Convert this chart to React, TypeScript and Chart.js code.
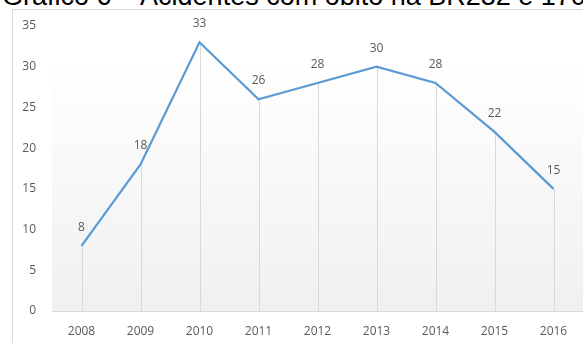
import React, { useEffect, useRef } from "react";
import { Chart, registerables } from "chart.js";

Chart.register(...registerables);

const TITLE = "Gráfico 6 – Acidentes com óbito na BR232 e 170";
const years = ["2008", "2009", "2010", "2011", "2012", "2013", "2014", "2015", "2016"];
const deaths = [8, 18, 33, 26, 28, 30, 28, 22, 15];
const yMax = 35;
const yStep = 5;

const LINE_COLOR = "#5b9bd5";
const TEXT_COLOR = "#595959";
const GRID_COLOR = "#d9d9d9";
const FONT = "'Open Sans', sans-serif";

const bgPlugin = {
  id: "bgGradient",
  beforeDraw(chart: any) {
    const { ctx, chartArea } = chart;
    if (!chartArea) return;
    const g = ctx.createLinearGradient(0, chartArea.top, 0, chartArea.bottom);
    g.addColorStop(0, "#ffffff");
    g.addColorStop(0.12, "#ffffff");
    g.addColorStop(1, "#f0f0f0");
    ctx.save();
    ctx.fillStyle = g;
    ctx.fillRect(chartArea.left, chartArea.top, chartArea.right - chartArea.left, chartArea.bottom - chartArea.top);
    ctx.restore();
  },
};

const dropLinesPlugin = {
  id: "dropLines",
  beforeDatasetsDraw(chart: any) {
    const { ctx } = chart;
    const yScale = chart.scales.y;
    const meta = chart.getDatasetMeta(0);
    ctx.save();
    ctx.strokeStyle = GRID_COLOR;
    ctx.lineWidth = 1;
    meta.data.forEach((pt: any) => {
      const x = Math.round(pt.x) + 0.5;
      ctx.beginPath();
      ctx.moveTo(x, pt.y);
      ctx.lineTo(x, yScale.getPixelForValue(0));
      ctx.stroke();
    });
    ctx.restore();
  },
};

const labelsPlugin = {
  id: "valueLabels",
  afterDatasetsDraw(chart: any) {
    const { ctx } = chart;
    const meta = chart.getDatasetMeta(0);
    const data = chart.data.datasets[0].data;
    ctx.save();
    ctx.fillStyle = TEXT_COLOR;
    ctx.font = `12px ${FONT}`;
    ctx.textAlign = "center";
    ctx.textBaseline = "middle";
    meta.data.forEach((pt: any, i: number) => {
      ctx.fillText(String(data[i]), pt.x, pt.y - 18.5);
    });
    ctx.restore();
  },
};

export default function App() {
  const ref = useRef<HTMLCanvasElement | null>(null);

  useEffect(() => {
    document.body.style.margin = "0";
    const canvas = ref.current;
    if (!canvas) return;
    const chart = new Chart(canvas, {
      type: "line",
      data: {
        labels: years,
        datasets: [
          {
            data: deaths,
            borderColor: LINE_COLOR,
            borderWidth: 2.25,
            pointRadius: 0,
            pointHoverRadius: 0,
            tension: 0,
            fill: false,
          },
        ],
      },
      options: {
        animation: false,
        responsive: false,
        maintainAspectRatio: false,
        layout: { padding: { left: 0, right: 0, top: 26, bottom: 0 } },
        plugins: {
          legend: { display: false },
          tooltip: { enabled: false },
          title: { display: false },
        },
        scales: {
          x: {
            offset: true,
            grid: { display: false, drawTicks: false },
            border: { display: true, color: GRID_COLOR, width: 1 },
            ticks: {
              color: TEXT_COLOR,
              font: { family: FONT, size: 12 },
              padding: 13,
              maxRotation: 0,
            },
            afterFit: (s: any) => {
              s.height = 32;
            },
          },
          y: {
            min: 0,
            max: yMax,
            grid: { display: false, drawTicks: false },
            border: { display: false },
            ticks: {
              stepSize: yStep,
              color: TEXT_COLOR,
              font: { family: FONT, size: 12 },
              padding: 16,
            },
            afterFit: (s: any) => {
              s.width = 52;
            },
          },
        },
      },
      plugins: [bgPlugin, dropLinesPlugin, labelsPlugin],
    });
    return () => chart.destroy();
  }, []);

  return (
    <div style={{ position: "relative", width: 583, height: 343, overflow: "hidden", background: "#fff" }}>
      <div
        style={{
          position: "absolute",
          left: 12,
          top: 9,
          width: 600,
          height: 400,
          border: "1px solid #d9d9d9",
          boxSizing: "border-box",
        }}
      />
      <div
        style={{
          position: "absolute",
          left: 2,
          top: -17,
          whiteSpace: "nowrap",
          fontFamily: "'Liberation Sans', Arial, sans-serif",
          fontSize: 27,
          lineHeight: "27px",
          color: "#000",
        }}
      >
        {TITLE}
      </div>
      <canvas ref={ref} width={583} height={343} style={{ position: "absolute", left: 0, top: 0 }} />
    </div>
  );
}
